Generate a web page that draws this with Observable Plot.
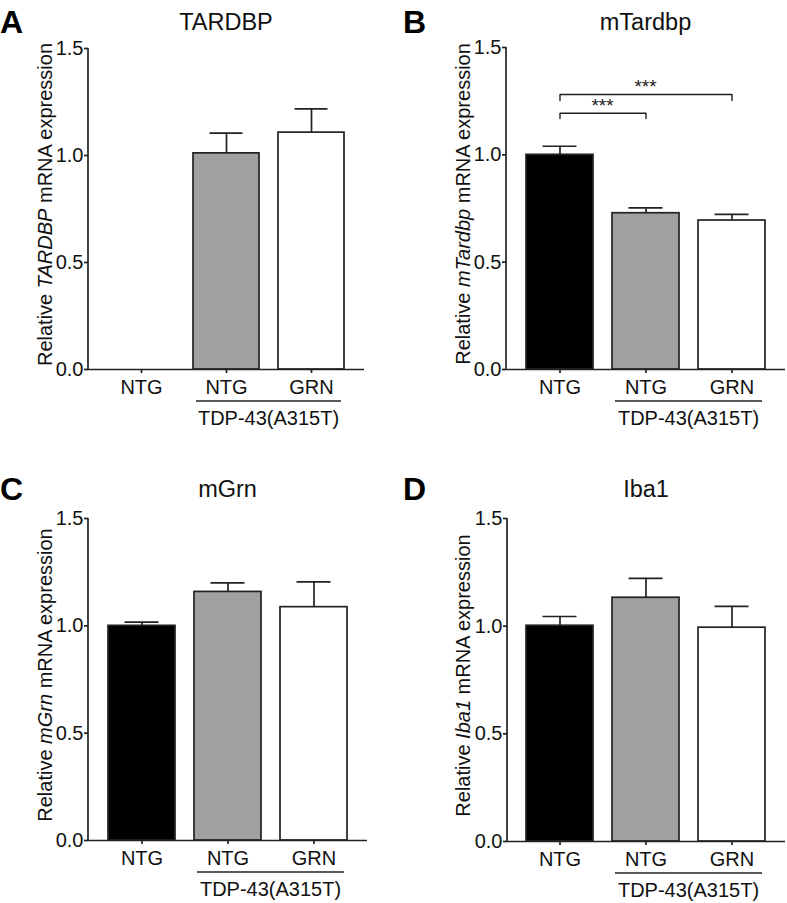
<!DOCTYPE html>
<html><head><meta charset="utf-8">
<script src="https://cdn.jsdelivr.net/npm/d3@7"></script>
<script src="https://cdn.jsdelivr.net/npm/@observablehq/plot@0.6"></script>
<style>
body{margin:0;background:#fff;font-family:"Liberation Sans",Arial,sans-serif}
#fig{position:relative;width:787px;height:903px;background:#fff}
.panel{position:absolute}
</style></head><body><div id="fig"></div>
<script>
// ---- data ----
const categories = ["NTG", "TDP-NTG", "TDP-GRN"];
const tickLabels = ["NTG", "NTG", "GRN"];
const fills = ["#000000", "#a0a0a0", "#ffffff"];
const groupLabel = "TDP-43(A315T)";
const yTicks = [0, 0.5, 1.0, 1.5];

const tardbpMean = [0, 1.01, 1.107];
const tardbpSem = [0, 0.095, 0.111];
const mTardbpMean = [1.0, 0.728, 0.694];
const mTardbpSem = [0.04, 0.025, 0.029];
const mGrnMean = [1.0, 1.158, 1.087];
const mGrnSem = [0.017, 0.042, 0.118];
const iba1Mean = [1.002, 1.132, 0.993];
const iba1Sem = [0.043, 0.09, 0.099];

const mTardbpBrackets = [
  {id: 1, from: "NTG", to: "TDP-NTG", y: 1.194, drop: 1.169, label: "***"},
  {id: 2, from: "NTG", to: "TDP-GRN", y: 1.281, drop: 1.253, label: "***"}
];

const panels = [
  {letter: "A", title: "TARDBP", gene: "TARDBP", mean: tardbpMean, sem: tardbpSem, brackets: [],
   left: 0, top: 0, width: 393, height: 440, mt: 48, mb: 71, ml: 88, mr: 29, lx: 52, tb: 30, lb: 33},
  {letter: "B", title: "mTardbp", gene: "mTardbp", mean: mTardbpMean, sem: mTardbpSem, brackets: mTardbpBrackets,
   left: 393, top: 0, width: 394, height: 440, mt: 47, mb: 71, ml: 113, mr: 2, lx: 77, tb: 30, lb: 33},
  {letter: "C", title: "mGrn", gene: "mGrn", mean: mGrnMean, sem: mGrnSem, brackets: [],
   left: 0, top: 470, width: 393, height: 433, mt: 48, mb: 63, ml: 88, mr: 26, lx: 52, tb: 27, lb: 30},
  {letter: "D", title: "Iba1", gene: "Iba1", mean: iba1Mean, sem: iba1Sem, brackets: [],
   left: 393, top: 470, width: 394, height: 433, mt: 48, mb: 62, ml: 114, mr: 2, lx: 77, tb: 27, lb: 30}
];

const INK = "#222";
const FONT = '"Liberation Sans", Arial, sans-serif';

function drawPanel(p) {
  const data = categories.map((c, i) => ({cat: c, mean: p.mean[i], sem: p.sem[i], fill: fills[i]}))
    .filter(d => d.mean > 0);
  const brPts = p.brackets.flatMap(b => [
    {id: b.id, cat: b.from, v: b.drop}, {id: b.id, cat: b.from, v: b.y},
    {id: b.id, cat: b.to, v: b.y}, {id: b.id, cat: b.to, v: b.drop}
  ]);
  const plot = Plot.plot({
    width: p.width, height: p.height,
    marginTop: p.mt, marginBottom: p.mb, marginLeft: p.ml, marginRight: p.mr,
    style: {fontFamily: FONT, fontSize: "20px", color: "#111", background: "#fff", overflow: "visible"},
    color: {type: "identity"},
    x: {domain: categories, padding: 0.22, label: null},
    y: {domain: [0, 1.5], label: null},
    marks: [
      Plot.ruleX(data, {x: "cat", y1: "mean", y2: d => d.mean + d.sem, stroke: INK, strokeWidth: 1.7}),
      Plot.tickY(data, {x: "cat", y: d => d.mean + d.sem, stroke: INK, strokeWidth: 1.7, insetLeft: 16.5, insetRight: 16.5}),
      Plot.barY(data, {x: "cat", y: "mean", fill: "fill", stroke: INK, strokeWidth: 1.7}),
      Plot.ruleY([0], {stroke: INK, strokeWidth: 1.7}),
      Plot.line(brPts, {x: "cat", y: "v", z: "id", stroke: INK, strokeWidth: 1.4}),
      Plot.axisX({tickSize: 4, tickPadding: 6, fontSize: 20, strokeWidth: 1.7, stroke: INK,
        tickFormat: d => tickLabels[categories.indexOf(d)]}),
      Plot.axisY({ticks: yTicks, tickSize: 4, tickPadding: 1, fontSize: 20, strokeWidth: 1.7, stroke: INK,
        tickFormat: d3.format(".1f")})
    ]
  });
  const x = plot.scale("x"), y = plot.scale("y");
  const bw = x.bandwidth;
  const svg = d3.select(plot);
  const y0 = y.apply(0), y1 = y.apply(1.5);
  // y axis line
  svg.append("line").attr("x1", p.ml).attr("x2", p.ml).attr("y1", y0).attr("y2", y1)
    .attr("stroke", INK).attr("stroke-width", 1.7);
  // panel letter
  svg.append("text").attr("x", p.left ? 10 : 0).attr("y", p.lb).attr("text-anchor", "start")
    .attr("font-family", FONT).attr("font-weight", "bold").attr("font-size", 32).attr("fill", "#000").text(p.letter);
  // title
  svg.append("text").attr("x", (p.ml + p.width - p.mr) / 2).attr("y", p.tb).attr("text-anchor", "middle")
    .attr("font-family", FONT).attr("font-size", 23.5).attr("fill", "#111").text(p.title);
  // y label
  const yl = svg.append("text").attr("transform", `translate(${p.lx},${(y0 + y1) / 2 - 4}) rotate(-90)`)
    .attr("text-anchor", "middle").attr("font-family", FONT).attr("font-size", 20).attr("fill", "#111");
  yl.append("tspan").text("Relative ");
  yl.append("tspan").attr("font-style", "italic").text(p.gene);
  yl.append("tspan").text(" mRNA expression");
  // group line & label
  const gx1 = x.apply("TDP-NTG") + 3, gx2 = x.apply("TDP-GRN") + bw - 3;
  svg.append("line").attr("x1", gx1).attr("x2", gx2).attr("y1", y0 + 32).attr("y2", y0 + 32)
    .attr("stroke", INK).attr("stroke-width", 1.5);
  svg.append("text").attr("x", (gx1 + gx2) / 2).attr("y", y0 + 56).attr("text-anchor", "middle")
    .attr("font-family", FONT).attr("font-size", 20).attr("fill", "#111").text(groupLabel);
  // significance stars
  for (const b of p.brackets) {
    const cx = (x.apply(b.from) + x.apply(b.to)) / 2 + bw / 2;
    svg.append("text").attr("x", cx).attr("y", y.apply(b.y) - 1).attr("text-anchor", "middle")
      .attr("font-family", FONT).attr("font-size", 19).attr("fill", "#222").text(b.label);
  }
  const div = document.createElement("div");
  div.className = "panel";
  div.style.left = p.left + "px";
  div.style.top = p.top + "px";
  div.appendChild(plot);
  document.getElementById("fig").appendChild(div);
}
panels.forEach(drawPanel);
</script></body></html>
